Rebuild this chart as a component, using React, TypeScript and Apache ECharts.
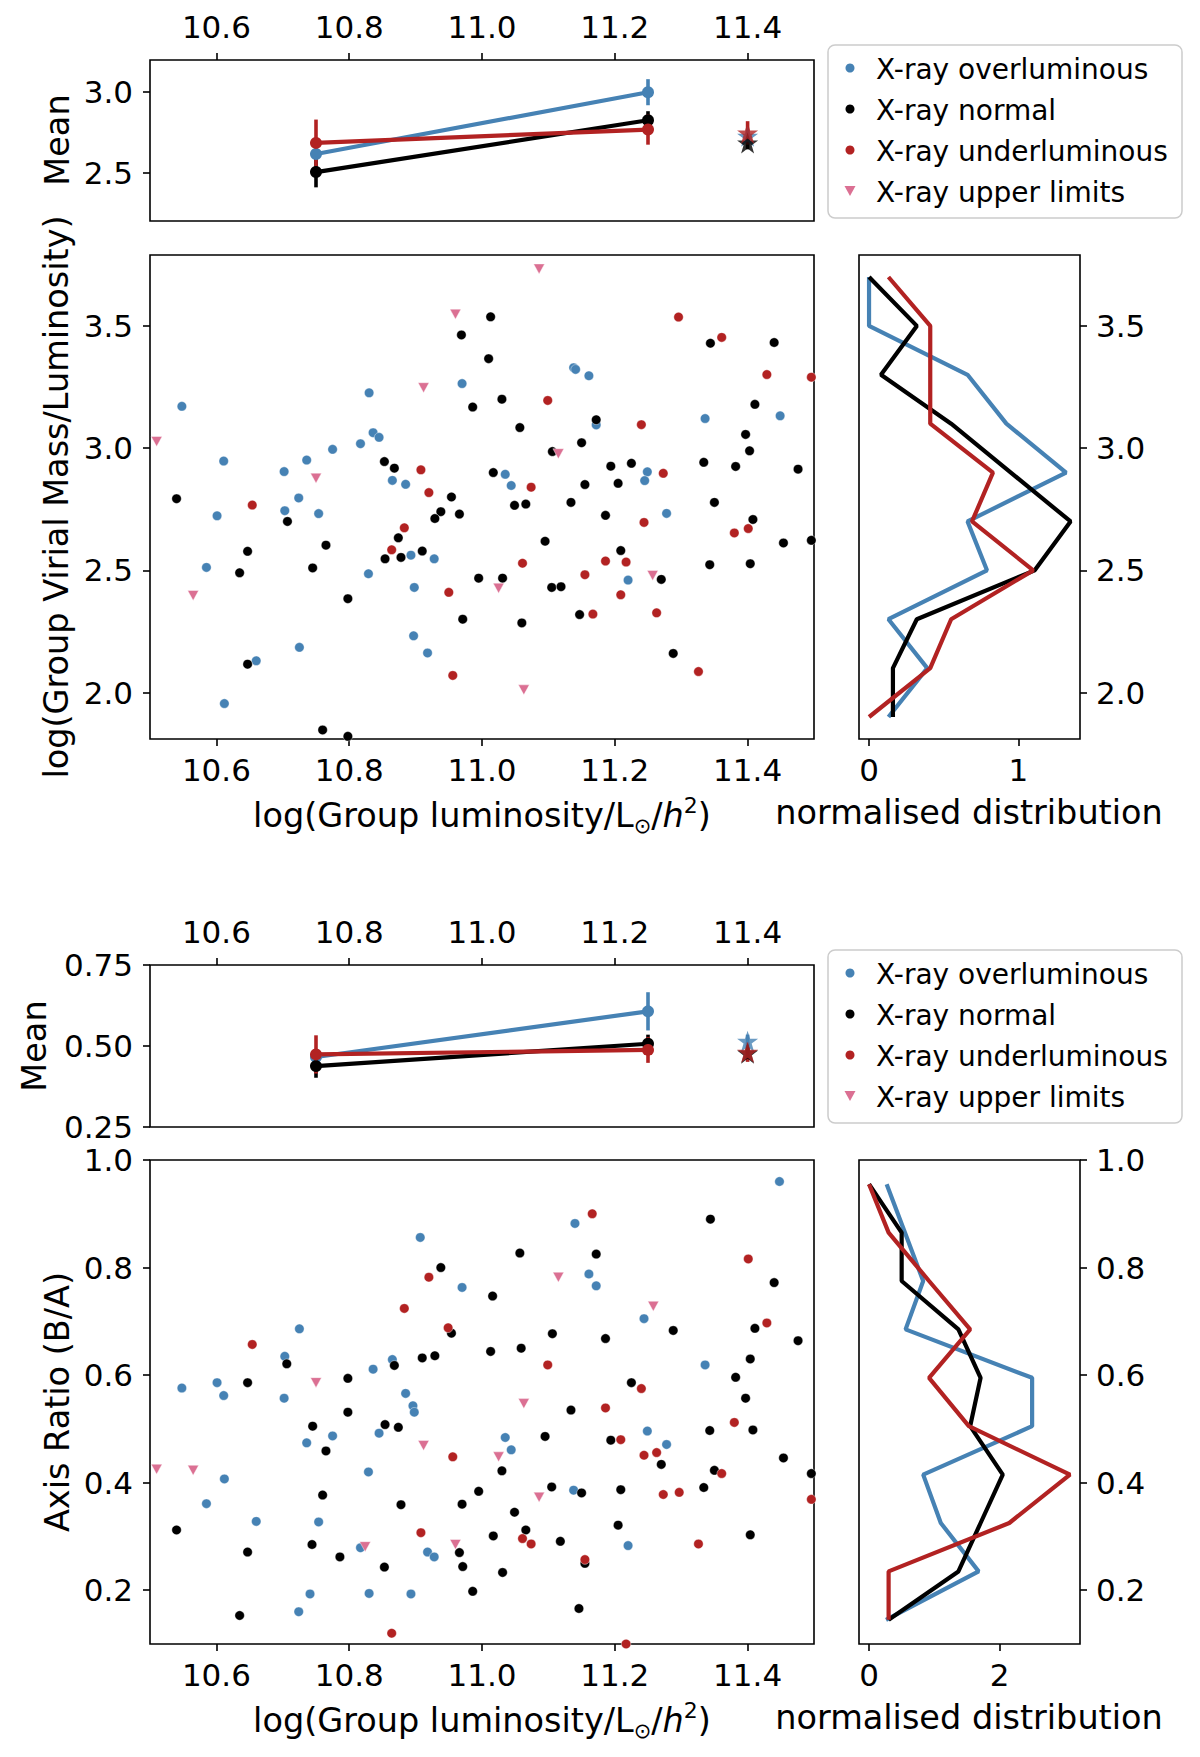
import React, { useEffect, useRef } from "react";
import * as echarts from "echarts";

const FONT = "DejaVu Sans";
const C_OVER = "#4682b4";
const C_NORMAL = "#000000";
const C_UNDER = "#b22222";
const C_UPPER = "#db7093";

const LEGEND_NAMES = ["X-ray overluminous", "X-ray normal", "X-ray underluminous", "X-ray upper limits"];

const xTicks = [10.6, 10.8, 11.0, 11.2, 11.4];
const massTicks = [2.0, 2.5, 3.0, 3.5];
const meanMassTicks = [2.5, 3.0];
const ratioTicks = [0.2, 0.4, 0.6, 0.8, 1.0];
const meanRatioTicks = [0.25, 0.5, 0.75];
const histMassTicks = [0, 1];
const histRatioTicks = [0, 2];

// Panel 1: log(Group Virial Mass/Luminosity)
const massOver = [
  [10.548, 3.171], [10.970, 3.264], [10.830, 3.226], [10.836, 3.063], [10.845, 3.044], [10.817, 3.018],
  [10.775, 2.995], [10.736, 2.951], [10.702, 2.904], [10.611, 2.947], [10.724, 2.796], [10.703, 2.744],
  [10.754, 2.732], [10.601, 2.723], [10.865, 2.868], [10.885, 2.852], [10.585, 2.512], [10.893, 2.562],
  [10.928, 2.547], [10.829, 2.486], [10.898, 2.430], [10.897, 2.232], [10.918, 2.162], [10.725, 2.185],
  [10.660, 2.130], [10.612, 1.955], [11.138, 3.329], [11.141, 3.322], [11.161, 3.296], [11.172, 3.095],
  [11.035, 2.893], [11.044, 2.847], [11.249, 2.903], [11.245, 2.867], [11.278, 2.733], [11.220, 2.460],
  [11.336, 3.121], [11.449, 3.132],
];
const massNormal = [
  [11.013, 3.537], [10.969, 3.463], [11.010, 3.366], [10.986, 3.168], [10.853, 2.945], [10.868, 2.918],
  [11.017, 2.900], [10.540, 2.793], [10.954, 2.800], [10.938, 2.740], [10.929, 2.712], [10.966, 2.730],
  [10.707, 2.700], [10.874, 2.633], [10.647, 2.578], [10.765, 2.603], [10.854, 2.547], [10.878, 2.553],
  [10.910, 2.579], [10.635, 2.490], [10.745, 2.510], [10.995, 2.468], [10.798, 2.384], [10.971, 2.300],
  [10.647, 2.116], [10.760, 1.847], [10.798, 1.821], [11.030, 3.200], [11.057, 3.084], [11.172, 3.116],
  [11.106, 2.986], [11.150, 3.022], [11.194, 2.926], [11.225, 2.938], [11.205, 2.856], [11.155, 2.851],
  [11.049, 2.766], [11.066, 2.771], [11.134, 2.778], [11.186, 2.725], [11.095, 2.619], [11.209, 2.581],
  [11.031, 2.468], [11.105, 2.430], [11.119, 2.433], [11.270, 2.463], [11.147, 2.319], [11.060, 2.285],
  [11.288, 2.160], [11.344, 3.429], [11.440, 3.432], [11.411, 3.179], [11.397, 3.056], [11.403, 2.989],
  [11.334, 2.942], [11.382, 2.925], [11.476, 2.914], [11.350, 2.778], [11.408, 2.708], [11.454, 2.612],
  [11.496, 2.623], [11.343, 2.523], [11.404, 2.527],
];
const massUnder = [
  [10.908, 2.911], [10.920, 2.818], [10.654, 2.767], [10.883, 2.674], [10.864, 2.584], [10.950, 2.410],
  [10.956, 2.070], [11.296, 3.536], [11.361, 3.453], [11.429, 3.301], [11.496, 3.290], [11.099, 3.195],
  [11.240, 3.096], [11.273, 2.897], [11.074, 2.840], [11.244, 2.696], [11.380, 2.653], [11.401, 2.671],
  [11.061, 2.529], [11.186, 2.538], [11.217, 2.534], [11.155, 2.482], [11.209, 2.400], [11.167, 2.321],
  [11.263, 2.326], [11.326, 2.086],
];
const massUpper = [
  [10.960, 3.548], [10.912, 3.247], [10.510, 3.027], [10.750, 2.877], [10.565, 2.397], [11.086, 3.733],
  [11.115, 2.977], [11.025, 2.427], [11.257, 2.479], [11.063, 2.011],
];

// Panel 2: Axis Ratio (B/A)
const ratioOver = [
  [10.907, 0.856], [10.970, 0.763], [10.725, 0.686], [10.703, 0.635], [10.865, 0.629], [10.836, 0.611],
  [10.548, 0.576], [10.601, 0.586], [10.611, 0.562], [10.702, 0.557], [10.885, 0.566], [10.896, 0.543],
  [10.898, 0.531], [10.775, 0.487], [10.736, 0.474], [10.845, 0.492], [10.829, 0.420], [10.612, 0.407],
  [10.585, 0.361], [10.660, 0.328], [10.754, 0.327], [10.817, 0.279], [10.918, 0.271], [10.928, 0.262],
  [10.741, 0.193], [10.830, 0.194], [10.893, 0.193], [10.724, 0.160], [11.448, 0.960], [11.140, 0.882],
  [11.161, 0.788], [11.172, 0.766], [11.244, 0.705], [11.336, 0.619], [11.035, 0.484], [11.044, 0.461],
  [11.249, 0.496], [11.278, 0.471], [11.138, 0.386], [11.220, 0.283],
];
const ratioNormal = [
  [10.938, 0.800], [11.016, 0.747], [10.954, 0.678], [11.013, 0.644], [10.706, 0.621], [10.868, 0.618],
  [10.910, 0.632], [10.929, 0.636], [10.647, 0.586], [10.798, 0.594], [10.798, 0.531], [10.745, 0.505],
  [10.854, 0.508], [10.874, 0.503], [10.765, 0.459], [10.760, 0.377], [10.878, 0.359], [10.970, 0.360],
  [10.995, 0.384], [10.540, 0.312], [10.647, 0.271], [10.744, 0.285], [10.786, 0.262], [10.853, 0.243],
  [10.966, 0.270], [10.971, 0.244], [10.986, 0.198], [10.635, 0.153], [11.017, 0.301], [11.344, 0.890],
  [11.057, 0.827], [11.172, 0.825], [11.440, 0.772], [11.106, 0.677], [11.186, 0.668], [11.288, 0.683],
  [11.411, 0.687], [11.476, 0.664], [11.059, 0.650], [11.404, 0.630], [11.382, 0.596], [11.397, 0.557],
  [11.225, 0.586], [11.134, 0.535], [11.095, 0.486], [11.194, 0.479], [11.343, 0.497], [11.408, 0.498],
  [11.270, 0.434], [11.454, 0.446], [11.350, 0.423], [11.030, 0.422], [11.496, 0.417], [11.105, 0.392],
  [11.150, 0.381], [11.209, 0.387], [11.334, 0.391], [11.049, 0.345], [11.066, 0.312], [11.118, 0.291],
  [11.205, 0.321], [11.404, 0.303], [11.155, 0.250], [11.031, 0.233], [11.146, 0.166],
];
const ratioUnder = [
  [10.920, 0.782], [10.883, 0.724], [10.949, 0.688], [10.654, 0.657], [10.956, 0.448], [10.908, 0.307],
  [10.864, 0.120], [11.166, 0.900], [11.401, 0.816], [11.429, 0.697], [11.099, 0.619], [11.240, 0.575],
  [11.186, 0.539], [11.209, 0.480], [11.380, 0.512], [11.244, 0.451], [11.263, 0.456], [11.361, 0.417],
  [11.273, 0.378], [11.297, 0.382], [11.496, 0.369], [11.061, 0.296], [11.074, 0.286], [11.155, 0.257],
  [11.326, 0.286], [11.217, 0.100],
];
const ratioUpper = [
  [10.750, 0.586], [10.912, 0.469], [10.510, 0.425], [10.565, 0.423], [10.824, 0.281], [10.960, 0.285],
  [11.115, 0.782], [11.258, 0.728], [11.063, 0.547], [11.025, 0.448], [11.086, 0.373],
];

// Normalised distributions (bin centres and densities)
const histMassBins = [1.9, 2.1, 2.3, 2.5, 2.7, 2.9, 3.1, 3.3, 3.5, 3.7];
const histMassOver = [0.13, 0.39, 0.13, 0.79, 0.66, 1.32, 0.92, 0.66, 0, 0];
const histMassNormal = [0.16, 0.16, 0.32, 1.11, 1.35, 0.95, 0.55, 0.08, 0.32, 0];
const histMassUnder = [0, 0.41, 0.55, 1.10, 0.69, 0.83, 0.41, 0.41, 0.41, 0.13];

const histRatioBins = [0.145, 0.235, 0.325, 0.415, 0.505, 0.595, 0.685, 0.775, 0.865, 0.955];
const histRatioOver = [0.26, 1.68, 1.10, 0.83, 2.50, 2.50, 0.56, 0.83, 0.55, 0.27];
const histRatioNormal = [0.30, 1.37, 1.71, 2.05, 1.55, 1.71, 1.37, 0.50, 0.50, 0];
const histRatioUnder = [0.30, 0.30, 2.15, 3.08, 1.53, 0.92, 1.55, 0.92, 0.30, 0];

// Means in luminosity bins
const meanBins = [10.75, 11.25];
const meanMassOver = [2.616, 3.0];
const meanMassOverErr = [0.03, 0.081];
const meanMassNormal = [2.504, 2.826];
const meanMassNormalErr = [0.095, 0.056];
const meanMassUnder = [2.685, 2.768];
const meanMassUnderErr = [0.145, 0.094];

const meanRatioOver = [0.466, 0.607];
const meanRatioOverErr = [0.02, 0.059];
const meanRatioNormal = [0.438, 0.507];
const meanRatioNormalErr = [0.036, 0.028];
const meanRatioUnder = [0.474, 0.488];
const meanRatioUnderErr = [0.059, 0.04];

// Stars (order: over, normal, under)
const starX = 11.4;
const starMass = [2.727, 2.685, 2.747];
const starMassErr = [0.04, 0.04, 0.073];
const starRatio = [0.515, 0.478, 0.481];
const starRatioErr = [0.02, 0.02, 0.03];

const STAR =
  "path://M50,0 L61.8,35.3 L99,35.3 L68.9,57.1 L80.3,92.7 L50,70.9 L19.7,92.7 L31.1,57.1 L1,35.3 L38.2,35.3 Z";

const TICK_FS = 31;
const LABEL_FS = 33.5;
const LEGEND_FS = 28;

function axis(gridIndex: number, min: number, max: number, ticks: number[], digits: number, position: string, margin: number) {
  return {
    type: "value",
    gridIndex,
    min,
    max,
    position,
    axisLine: { show: false, onZero: false },
    splitLine: { show: false },
    axisTick: { show: true, length: 7, lineStyle: { color: "#000", width: 1.6 }, customValues: ticks },
    axisLabel: {
      show: true,
      customValues: ticks,
      formatter: (v: number) => v.toFixed(digits),
      color: "#000",
      fontSize: TICK_FS,
      fontFamily: FONT,
      margin,
    },
  };
}

function scatter(name: string, data: number[][], color: string, idx: number, tri = false) {
  return {
    type: "scatter",
    name,
    data,
    xAxisIndex: idx,
    yAxisIndex: idx,
    symbol: tri ? "triangle" : "circle",
    symbolRotate: tri ? 180 : 0,
    symbolSize: tri ? [11, 10] : 9.5,
    itemStyle: { color, borderColor: "rgba(255,255,255,0.7)", borderWidth: 0.6, opacity: 1 },
    clip: true,
    silent: true,
  };
}

function meanGroup(name: string, vals: number[], errs: number[], sv: number, se: number, color: string, idx: number) {
  const err = vals.map((v, i) => [meanBins[i], v, errs[i]]);
  err.push([starX, sv, se]);
  return [
    {
      type: "custom",
      name: name + " err",
      xAxisIndex: idx,
      yAxisIndex: idx,
      data: err,
      encode: { x: 0, y: 1 },
      renderItem: (_p: any, api: any) => {
        const x = api.value(0);
        const y = api.value(1);
        const e = api.value(2);
        const a = api.coord([x, y - e]);
        const b = api.coord([x, y + e]);
        return {
          type: "line",
          shape: { x1: a[0], y1: a[1], x2: b[0], y2: b[1] },
          style: { stroke: color, lineWidth: 3.6 },
        };
      },
      silent: true,
    },
    {
      type: "line",
      name: name + " mean",
      xAxisIndex: idx,
      yAxisIndex: idx,
      data: vals.map((v, i) => [meanBins[i], v]),
      symbol: "circle",
      symbolSize: 12,
      showSymbol: true,
      lineStyle: { color, width: 4.2 },
      itemStyle: { color },
      silent: true,
    },
    {
      type: "scatter",
      name: name + " star",
      xAxisIndex: idx,
      yAxisIndex: idx,
      data: [[starX, sv]],
      symbol: STAR,
      symbolSize: 21,
      itemStyle: { color },
      silent: true,
    },
  ];
}

function hist(name: string, bins: number[], vals: number[], color: string, idx: number) {
  return {
    type: "line",
    name: name + " hist",
    xAxisIndex: idx,
    yAxisIndex: idx,
    data: vals.map((v, i) => [v, bins[i]]),
    symbol: "none",
    lineStyle: { color, width: 4.2 },
    clip: false,
    silent: true,
  };
}

function legendGraphic(top: number) {
  const rows = [0, 41, 82, 123];
  const colors = [C_OVER, C_NORMAL, C_UNDER, C_UPPER];
  const children: any[] = [
    {
      type: "rect",
      shape: { x: 828, y: top, width: 354, height: 173, r: 7 },
      style: { fill: "rgba(255,255,255,0.8)", stroke: "#cccccc", lineWidth: 1.5 },
    },
  ];
  rows.forEach((dy, i) => {
    const cy = top + 23 + dy;
    if (i < 3) {
      children.push({ type: "circle", shape: { cx: 850, cy, r: 4.5 }, style: { fill: colors[i] } });
    } else {
      children.push({
        type: "polygon",
        shape: { points: [[844.5, cy - 5], [855.5, cy - 5], [850, cy + 5]] },
        style: { fill: colors[i] },
      });
    }
    children.push({
      type: "text",
      x: 876,
      y: cy + 1,
      style: { text: LEGEND_NAMES[i], fontSize: LEGEND_FS, fontFamily: FONT, fill: "#000", align: "left", verticalAlign: "middle" },
    });
  });
  return { type: "group", children };
}

function vText(text: string, x: number, y: number) {
  return {
    type: "text",
    x,
    y,
    rotation: Math.PI / 2,
    style: { text, fontSize: LABEL_FS, fontFamily: FONT, fill: "#000", align: "center", verticalAlign: "middle" },
  };
}

function lumTitle(y: number) {
  return {
    type: "text",
    x: 482,
    y,
    style: {
      text: "{a|log(Group luminosity/L}{b|⊙}{a|/}{c|h}{d|2}{a|)}",
      align: "center",
      verticalAlign: "middle",
      rich: {
        a: { fontSize: LABEL_FS, fontFamily: FONT, fill: "#000", lineHeight: 42 },
        b: { fontSize: 21, fontFamily: FONT, fill: "#000", lineHeight: 20, verticalAlign: "bottom" },
        c: { fontSize: LABEL_FS, fontFamily: FONT, fill: "#000", fontStyle: "italic", lineHeight: 42 },
        d: { fontSize: 22, fontFamily: FONT, fill: "#000", lineHeight: 21, verticalAlign: "top" },
      },
    },
  };
}

function textAt(text: string, x: number, y: number) {
  return {
    type: "text",
    x,
    y,
    style: { text, fontSize: LABEL_FS, fontFamily: FONT, fill: "#000", align: "center", verticalAlign: "middle" },
  };
}

export default function App() {
  const ref = useRef<HTMLDivElement>(null);
  useEffect(() => {
    document.body.style.margin = "0";
    if (!ref.current) return;
    const chart = echarts.init(ref.current, undefined, { renderer: "svg" });
    const gridStyle = { show: true, borderColor: "#000", borderWidth: 1.6, backgroundColor: "transparent" };
    const OFF = 905;
    const grids = [
      { left: 150, top: 60, width: 664, height: 161, ...gridStyle },
      { left: 150, top: 255, width: 664, height: 484, ...gridStyle },
      { left: 859, top: 255, width: 221, height: 484, ...gridStyle },
      { left: 150, top: 60 + OFF, width: 664, height: 162, ...gridStyle },
      { left: 150, top: 255 + OFF, width: 664, height: 484, ...gridStyle },
      { left: 859, top: 255 + OFF, width: 221, height: 484, ...gridStyle },
    ];
    const xAxes = [
      axis(0, 10.5, 11.5, xTicks, 1, "top", 18),
      axis(1, 10.5, 11.5, xTicks, 1, "bottom", 15),
      axis(2, -0.0673, 1.4133, histMassTicks, 0, "bottom", 15),
      axis(3, 10.5, 11.5, xTicks, 1, "top", 18),
      axis(4, 10.5, 11.5, xTicks, 1, "bottom", 15),
      axis(5, -0.154, 3.234, histRatioTicks, 0, "bottom", 15),
    ];
    const yAxes = [
      axis(0, 2.2, 3.2, meanMassTicks, 1, "left", 17),
      axis(1, 1.81, 3.79, massTicks, 1, "left", 17),
      axis(2, 1.81, 3.79, massTicks, 1, "right", 16),
      axis(3, 0.25, 0.75, meanRatioTicks, 2, "left", 17),
      axis(4, 0.1, 1.0, ratioTicks, 1, "left", 17),
      axis(5, 0.1, 1.0, ratioTicks, 1, "right", 16),
    ];
    const series: any[] = [
      scatter(LEGEND_NAMES[0], massOver, C_OVER, 1),
      scatter(LEGEND_NAMES[1], massNormal, C_NORMAL, 1),
      scatter(LEGEND_NAMES[2], massUnder, C_UNDER, 1),
      scatter(LEGEND_NAMES[3], massUpper, C_UPPER, 1, true),
      scatter(LEGEND_NAMES[0], ratioOver, C_OVER, 4),
      scatter(LEGEND_NAMES[1], ratioNormal, C_NORMAL, 4),
      scatter(LEGEND_NAMES[2], ratioUnder, C_UNDER, 4),
      scatter(LEGEND_NAMES[3], ratioUpper, C_UPPER, 4, true),
      ...meanGroup("over1", meanMassOver, meanMassOverErr, starMass[0], starMassErr[0], C_OVER, 0),
      ...meanGroup("normal1", meanMassNormal, meanMassNormalErr, starMass[1], starMassErr[1], C_NORMAL, 0),
      ...meanGroup("under1", meanMassUnder, meanMassUnderErr, starMass[2], starMassErr[2], C_UNDER, 0),
      ...meanGroup("over2", meanRatioOver, meanRatioOverErr, starRatio[0], starRatioErr[0], C_OVER, 3),
      ...meanGroup("normal2", meanRatioNormal, meanRatioNormalErr, starRatio[1], starRatioErr[1], C_NORMAL, 3),
      ...meanGroup("under2", meanRatioUnder, meanRatioUnderErr, starRatio[2], starRatioErr[2], C_UNDER, 3),
      hist("over1", histMassBins, histMassOver, C_OVER, 2),
      hist("normal1", histMassBins, histMassNormal, C_NORMAL, 2),
      hist("under1", histMassBins, histMassUnder, C_UNDER, 2),
      hist("over2", histRatioBins, histRatioOver, C_OVER, 5),
      hist("normal2", histRatioBins, histRatioNormal, C_NORMAL, 5),
      hist("under2", histRatioBins, histRatioUnder, C_UNDER, 5),
    ];
    chart.setOption({
      animation: false,
      backgroundColor: "#ffffff",
      grid: grids,
      xAxis: xAxes,
      yAxis: yAxes,
      series,
      graphic: [
        legendGraphic(45),
        legendGraphic(45 + OFF),
        vText("Mean", 57, 140),
        vText("log(Group Virial Mass/Luminosity)", 56, 497),
        vText("Mean", 34, 140 + OFF + 1),
        vText("Axis Ratio (B/A)", 57, 497 + OFF),
        lumTitle(815),
        lumTitle(815 + OFF),
        textAt("normalised distribution", 969, 812),
        textAt("normalised distribution", 969, 812 + OFF),
      ],
    });
    return () => chart.dispose();
  }, []);
  return <div ref={ref} style={{ width: 1200, height: 1757, position: "absolute", left: 0, top: 0, background: "#fff" }} />;
}
